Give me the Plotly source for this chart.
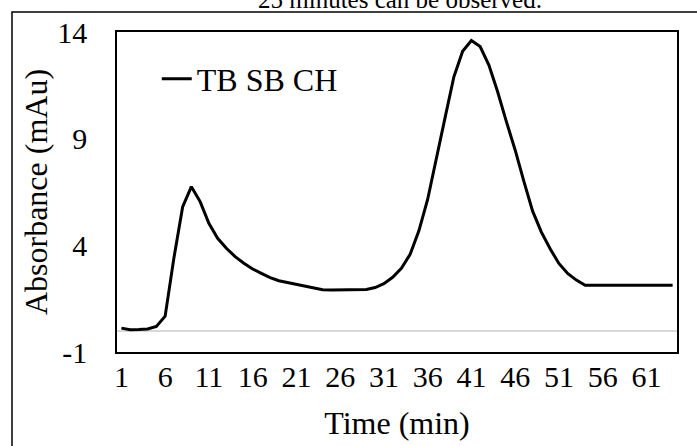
import plotly.graph_objects as go

time_min = list(range(1, 65))
absorbance = [
    0.12, 0.04, 0.05, 0.08, 0.2, 0.68, 3.4, 5.8, 6.75, 6.05,
    5.03, 4.33, 3.86, 3.47, 3.16, 2.89, 2.69, 2.49, 2.34, 2.25,
    2.16, 2.08, 2.0, 1.92, 1.91, 1.91, 1.91, 1.91, 1.93, 2.02,
    2.2, 2.5, 2.92, 3.58, 4.68, 6.15, 8.0, 10.0, 11.9, 13.1,
    13.6, 13.32, 12.45, 11.2, 9.8, 8.47, 7.0, 5.6, 4.62, 3.84,
    3.15, 2.68, 2.37, 2.13, 2.13, 2.13, 2.13, 2.13, 2.13, 2.13,
    2.13, 2.13, 2.13, 2.13,
]
x_ticks = list(range(1, 62, 5))
y_ticks = [-1, 4, 9, 14]
series_name = "TB SB CH"
caption = "25 minutes can be observed."

FONT = "Liberation Serif, Times New Roman, serif"

fig = go.Figure()
fig.add_trace(go.Scatter(
    x=time_min, y=absorbance, mode="lines", name=series_name,
    line=dict(color="black", width=3),
    showlegend=True,
))

fig.update_layout(
    width=697, height=446,
    margin=dict(l=117, r=20, t=32, b=94),
    paper_bgcolor="white", plot_bgcolor="white",
    font=dict(family=FONT, size=30, color="black"),
    showlegend=True,
    legend=dict(x=0.071, y=0.853, xanchor="left", yanchor="middle",
                bgcolor="rgba(0,0,0,0)", font=dict(size=32),
                itemwidth=30),
    xaxis=dict(
        range=[0.5, 64.5], tickmode="array", tickvals=x_ticks,
        ticktext=[str(v) for v in x_ticks],
        showgrid=False, zeroline=False,
        showline=True, mirror=True, linecolor="black", linewidth=1.5,
        ticks="", ticklabelstandoff=-3,
        title=dict(text="Time (min)", standoff=20, font=dict(size=32)),
        automargin=False,
    ),
    yaxis=dict(
        range=[-1, 14], tickmode="array", tickvals=y_ticks,
        ticktext=[str(v) for v in y_ticks],
        showgrid=False,
        zeroline=True, zerolinecolor="#d9d9d9", zerolinewidth=1.5,
        showline=True, mirror=True, linecolor="black", linewidth=1.5,
        ticks="", ticklabelstandoff=22,
        title=dict(text="Absorbance (mAu)", standoff=0, font=dict(size=32)),
        automargin=False,
    ),
    annotations=[dict(
        text=caption, xref="paper", yref="paper",
        x=0.505, y=1.1, xanchor="center", yanchor="middle",
        showarrow=False, font=dict(size=25, family=FONT),
    )],
    shapes=[dict(
        type="rect", xref="paper", yref="paper",
        x0=-0.1875, x1=1.06, y0=-0.36, y1=1.0625,
        line=dict(color="black", width=1.5), fillcolor="rgba(0,0,0,0)",
        layer="below",
    )],
)

fig.write_html("out.html", config={"displayModeBar": False},
               post_script="document.body.style.margin='0';")
